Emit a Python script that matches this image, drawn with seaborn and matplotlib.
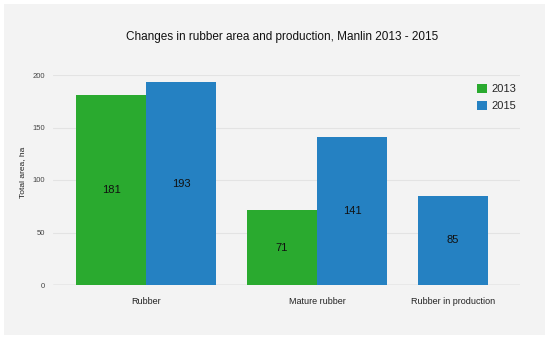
import pandas as pd
import numpy as np
import matplotlib
matplotlib.use("Agg")
import matplotlib.pyplot as plt
import seaborn as sns
from matplotlib.patches import Rectangle

# DATA
CATEGORIES  = ["Rubber", "Mature rubber", "Rubber in production"]
YEARS       = ["2013", "2015"]
VALUES_2013 = [181, 71, None]
VALUES_2015 = [193, 141, 85]
Y_TICKS     = [0, 50, 100, 150, 200]

COLORS = {"2013": "#2aaa2f", "2015": "#2581c2"}
GAP = 31 / 70  # gap between category groups, in bar widths

sns.set_style("white")
plt.rcParams["font.family"] = ["Liberation Sans", "DejaVu Sans"]

# pack bars: each category gets only the bars it has, centred under its label
rows, centers, pos = [], [], 0.0
for cat, v13, v15 in zip(CATEGORIES, VALUES_2013, VALUES_2015):
    start = pos
    for year, v in zip(YEARS, [v13, v15]):
        if v is None:
            continue
        rows.append({"category": cat, "year": year, "value": v, "pos": pos})
        pos += 1
    centers.append((start + pos - 1) / 2)
    pos += GAP
df = pd.DataFrame(rows)

W, H = 550, 339
fig = plt.figure(figsize=(W / 100, H / 100), dpi=100, facecolor="white")
fig.add_artist(Rectangle((4 / W, 4 / H), 541 / W, 331 / H, transform=fig.transFigure,
                         facecolor="#f3f3f3", edgecolor="none", zorder=-10))

ax = fig.add_axes([53 / W, (H - 285) / H, (520 - 53) / W, 210 / H])
ax.set_facecolor("none")

sns.barplot(data=df, x="pos", y="value", hue="year", hue_order=YEARS,
            native_scale=True, dodge=False, width=1, palette=COLORS,
            saturation=1, linewidth=0, ax=ax, legend=True)

for cont in ax.containers:
    ax.bar_label(cont, label_type="center", fmt="%d", fontsize=8, color="#111111")

ax.set_xlim(-0.829, centers[-1] + 67 / 70)
ax.set_ylim(0, 200)
ax.set_xticks(centers)
ax.set_xticklabels(CATEGORIES, fontsize=6.5, color="#222222")
ax.set_yticks(Y_TICKS)
ax.set_yticklabels([str(t) for t in Y_TICKS], fontsize=5.5, color="#444444")
ax.tick_params(axis="both", length=0)
ax.tick_params(axis="x", pad=9)
ax.tick_params(axis="y", pad=6)
ax.set_xlabel("")
ax.set_ylabel("")
ax.yaxis.grid(True, color="#e3e3e3", lw=0.8)
ax.set_axisbelow(True)
ax.axhline(0, color="#c4c4c4", lw=1, zorder=0.5)
for s in ax.spines.values():
    s.set_visible(False)

handles, labels = ax.get_legend_handles_labels()
ax.legend(handles, labels, loc="upper left", bbox_to_anchor=(477 / W, 1 - 84 / H),
          bbox_transform=fig.transFigure, frameon=False, fontsize=8,
          handlelength=0.9, handleheight=0.9, handletextpad=0.4,
          labelspacing=0.55, borderpad=0, borderaxespad=0)

fig.text(282 / W, 1 - 37 / H, "Changes in rubber area and production, Manlin 2013 - 2015",
         ha="center", va="center", fontsize=8.5, color="#111111")
fig.text(23 / W, 1 - 172 / H, "Total area, ha", rotation=90,
         ha="center", va="center", fontsize=6, color="#222222")

fig.savefig("out.png", dpi=100, facecolor=fig.get_facecolor())
